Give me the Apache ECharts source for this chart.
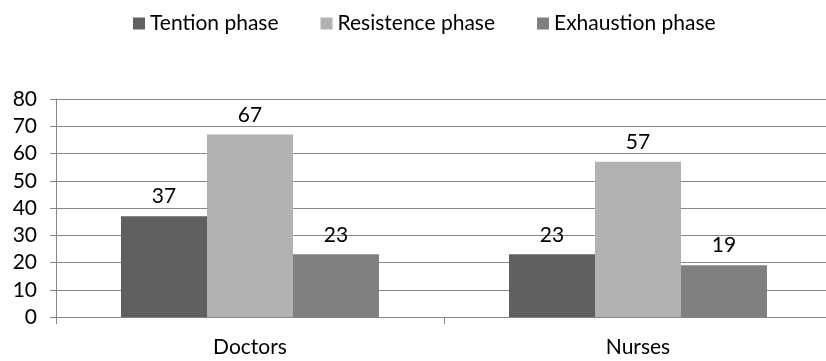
<!DOCTYPE html>
<html>
<head>
<meta charset="utf-8">
<style>
  html, body { margin: 0; padding: 0; background: #fff; overflow: hidden; }
  /* plot area runs slightly past the right edge of the window */
  #chart { width: 840px; height: 361px; }
</style>
<script src="https://cdn.jsdelivr.net/npm/echarts@6/dist/echarts.min.js"></script>
</head>
<body>
<div id="chart"></div>
<script>
// Groups and per-phase values
const categories = ['Doctors', 'Nurses'];
const tentionPhase = [37, 23];
const resistencePhase = [67, 57];
const exhaustionPhase = [23, 19];
const seriesNames = ['Tention phase', 'Resistence phase', 'Exhaustion phase'];
const seriesColors = ['#606060', '#b2b2b2', '#808080'];

const FONT = 'Lato, "Open Sans", sans-serif';
const FONT_SIZE = 21;
const chart = echarts.init(document.getElementById('chart'));

function makeSeries(name, values, color) {
  return {
    name: name,
    type: 'bar',
    data: values,
    barWidth: 86,
    barGap: '0%',
    itemStyle: { color: color },
    label: {
      show: true,
      position: 'top',
      distance: 9,
      color: '#000',
      fontFamily: FONT,
      fontSize: FONT_SIZE
    }
  };
}

chart.setOption({
  animation: false,
  textStyle: { fontFamily: FONT },
  legend: {
    top: 8,
    left: 128,
    itemWidth: 12,
    itemHeight: 12,
    itemGap: 42,
    icon: 'rect',
    textStyle: { fontFamily: FONT, fontSize: FONT_SIZE, color: '#000' },
    data: seriesNames
  },
  grid: { left: 56, top: 99, width: 776, height: 218 },
  xAxis: {
    type: 'category',
    data: categories,
    axisLine: { lineStyle: { color: '#868686', width: 1 } },
    axisTick: { show: true, length: 7, lineStyle: { color: '#868686' } },
    axisLabel: { color: '#000', fontFamily: FONT, fontSize: FONT_SIZE, margin: 20 }
  },
  yAxis: {
    type: 'value',
    min: 0,
    max: 80,
    interval: 10,
    axisLine: { show: true, lineStyle: { color: '#868686', width: 1 } },
    axisTick: { show: true, length: 6, lineStyle: { color: '#868686' } },
    splitLine: { lineStyle: { color: '#868686', width: 1 } },
    axisLabel: { color: '#000', fontFamily: FONT, fontSize: FONT_SIZE, margin: 19 }
  },
  series: [
    makeSeries(seriesNames[0], tentionPhase, seriesColors[0]),
    makeSeries(seriesNames[1], resistencePhase, seriesColors[1]),
    makeSeries(seriesNames[2], exhaustionPhase, seriesColors[2])
  ]
});
</script>
</body>
</html>
